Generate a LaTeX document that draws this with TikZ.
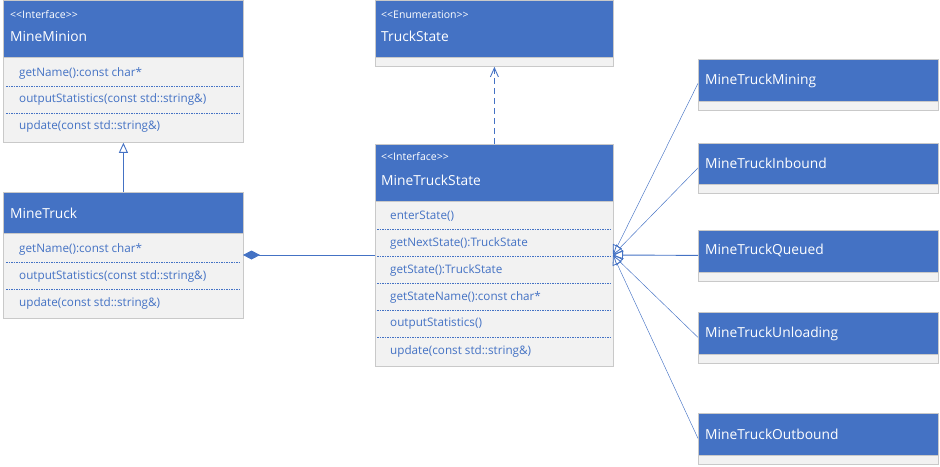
\documentclass[tikz,border=0pt]{standalone}
\usepackage{fontspec}
\setmainfont{Open Sans}
\usetikzlibrary{positioning,arrows.meta}
\definecolor{umlblue}{HTML}{4472C4}
\definecolor{umlgray}{HTML}{F2F2F2}
\definecolor{umledge}{HTML}{C9C9C9}

\begin{document}
\begin{tikzpicture}[x=1pt,y=-1pt,inner sep=0pt,
  head/.style={draw=umledge,line width=0.8pt,fill=umlblue,anchor=north west,minimum width=240pt},
  body/.style={draw=umledge,line width=0.8pt,fill=umlgray,anchor=north west,minimum width=240pt},
  title/.style={anchor=west,text=white,font=\fontsize{13.8}{15}\selectfont},
  stereo/.style={anchor=west,text=white,font=\fontsize{10.5}{12}\selectfont},
  meth/.style={anchor=west,text=umlblue,font=\fontsize{11.7}{13}\selectfont},
  sep/.style={umlblue,dash pattern=on 1.5pt off 1pt,line width=0.6pt},
  link/.style={umlblue,line width=0.9pt},
  thinlink/.style={umlblue,line width=0.45pt}]
\useasboundingbox (0,0) rectangle (940,466);

\coordinate (mtL) at (243,255);
\coordinate (mtsL) at (375,255);
\coordinate (mtsR) at (613,255);

% MineMinion
\node[body,minimum height=85pt] (mmB) at (3,57) {};
\node[head,minimum height=57pt] (mmH) at (3,0) {};
\node[stereo] (mmS) at (10,15) {<{}<Interface>{}>};
\node[title] (mmT) at (10,36.5) {MineMinion};
\node[meth] (mm1) at (19,73) {getName():const char*};
\node[meth] (mm2) at (19,99.5) {outputStatistics(const std::string\&)};
\node[meth] (mm3) at (19,126.5) {update(const std::string\&)};
\draw[sep] (6,86) -- (241,86);
\draw[sep] (6,113) -- (241,113);

% MineTruck
\node[body,minimum height=85pt] (mtB) at (3,233) {};
\node[head,minimum height=41pt] (mtH) at (3,192) {};
\node[title] (mtT) at (10,213.5) {MineTruck};
\node[meth] (mt1) at (19,249) {getName():const char*};
\node[meth] (mt2) at (19,276.5) {outputStatistics(const std::string\&)};
\node[meth] (mt3) at (19,303.5) {update(const std::string\&)};
\draw[sep] (6,262) -- (241,262);
\draw[sep] (6,289) -- (241,289);

% TruckState
\node[body,minimum width=238pt,minimum height=9pt] (tsB) at (375,57) {};
\node[head,minimum width=238pt,minimum height=57pt] (tsH) at (375,0) {};
\node[stereo] (tsS) at (381,15) {<{}<Enumeration>{}>};
\node[title] (tsT) at (381,36.5) {TruckState};

% MineTruckState
\node[body,minimum width=238pt,minimum height=165pt] (mtsB) at (375,201) {};
\node[head,minimum width=238pt,minimum height=57pt] (mtsH) at (375,144) {};
\node[stereo] (mtsS) at (381,157) {<{}<Interface>{}>};
\node[title] (mtsT) at (381,180.5) {MineTruckState};
\node[meth] (mts1) at (390,216.5) {enterState()};
\node[meth] (mts2) at (390,243) {getNextState():TruckState};
\node[meth] (mts3) at (390,270) {getState():TruckState};
\node[meth] (mts4) at (390,297) {getStateName():const char*};
\node[meth] (mts5) at (390,324) {outputStatistics()};
\node[meth] (mts6) at (390,351.5) {update(const std::string\&)};
\draw[sep] (377,229.5) -- (611,229.5);
\draw[sep] (377,256.5) -- (611,256.5);
\draw[sep] (377,283.5) -- (611,283.5);
\draw[sep] (377,310.5) -- (611,310.5);
\draw[sep] (377,337.5) -- (611,337.5);

% states
\node[body,minimum height=9pt] (mineB) at (698,101) {};
\node[head,minimum height=42pt] (mineH) at (698,59) {};
\node[title] (mineT) at (705,80.5) {MineTruckMining};
\node[body,minimum height=9pt] (inbB) at (698,184) {};
\node[head,minimum height=41pt] (inbH) at (698,143) {};
\node[title] (inbT) at (705,163.5) {MineTruckInbound};
\node[body,minimum height=9pt] (queB) at (698,272) {};
\node[head,minimum height=42pt] (queH) at (698,230) {};
\node[title] (queT) at (705,250.5) {MineTruckQueued};
\node[body,minimum height=9pt] (unlB) at (698,354) {};
\node[head,minimum height=42pt] (unlH) at (698,312) {};
\node[title] (unlT) at (705,333.5) {MineTruckUnloading};
\node[body,minimum height=9pt] (outB) at (698,455) {};
\node[head,minimum height=42pt] (outH) at (698,413) {};
\node[title] (outT) at (705,434.5) {MineTruckOutbound};

\draw[link,-{Triangle[open,length=10pt,width=9pt]}] (mtH.north) -- (mmB.south);
\draw[link,{Diamond[length=17pt,width=9pt]}-] (mtL) -- (mtsL);
\draw[link,dash pattern=on 6pt off 4pt,-{Straight Barb[length=9pt,width=8pt]}] (mtsH.north) -- (tsB.south);

\draw[thinlink,-{Triangle[open,length=10pt,width=10pt,line width=0.8pt]}] ([yshift=-3pt]mineH.west) -- (mtsR);
\draw[thinlink,-{Triangle[open,length=10pt,width=10pt,line width=0.8pt]}] ([yshift=-4pt]inbH.west) -- (mtsR);
\draw[link,-{Triangle[open,length=10pt,width=10pt]}] ([yshift=-4pt]queH.west) -- (mtsR);
\draw[thinlink,-{Triangle[open,length=10pt,width=10pt,line width=0.8pt]}] ([yshift=-4pt]unlH.west) -- (mtsR);
\draw[thinlink,-{Triangle[open,length=10pt,width=10pt,line width=0.8pt]}] ([yshift=-4pt]outH.west) -- (mtsR);
\end{tikzpicture}
\end{document}
